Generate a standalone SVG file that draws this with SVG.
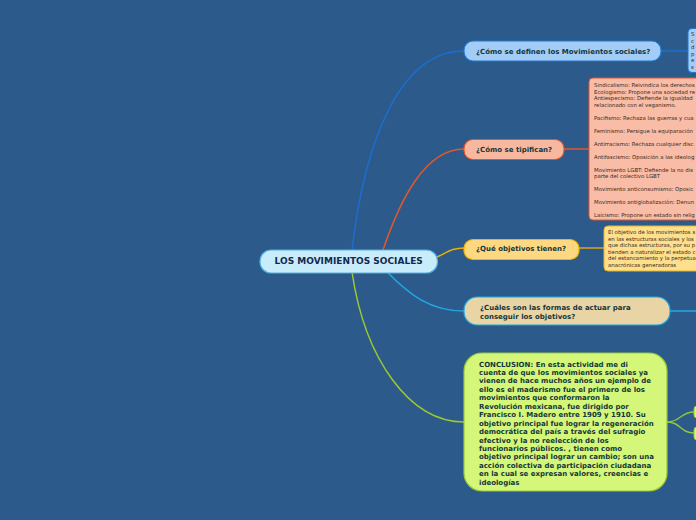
<svg xmlns="http://www.w3.org/2000/svg" width="696" height="520" viewBox="0 0 696 520">
<style>
.bg{fill:#2c5a8a}
.c{fill:none;stroke-width:1.5}
.t{font-family:"DejaVu Sans",Verdana,sans-serif;font-weight:bold;font-size:7px;fill:#15363a}
.s{font-family:"DejaVu Sans",Verdana,sans-serif;font-size:5.4px;fill:#3a2a20}
.main{font-family:"DejaVu Sans",Verdana,sans-serif;font-weight:bold;font-size:9px;fill:#13284f}
</style>
<rect class="bg" x="0" y="0" width="696" height="520"/>
<g id="connectors">
<path class="c" stroke="#1b6fd0" d="M352,250 C365,140 400,51 464,51"/>
<path class="c" stroke="#e0582c" d="M383,250 C400,200 425,149 464,149"/>
<path class="c" stroke="#efb000" d="M437,257 C448,252 452,248 464,248"/>
<path class="c" stroke="#22a8e0" d="M387,272 C410,295 430,311 464,311"/>
<path class="c" stroke="#9cc830" d="M352,272 C365,360 410,422 464,422"/>
<path class="c" stroke="#1b6fd0" d="M661,51 L688,51"/>
<path class="c" stroke="#e0582c" d="M564,149 L589,149"/>
<path class="c" stroke="#d9a520" d="M579,248 L604,248"/>
<path class="c" stroke="#22a8e0" d="M670,311 L696,311"/>
<path class="c" stroke="#8dc63f" d="M667,422 C681,422 680,412 694,412"/>
<path class="c" stroke="#8dc63f" d="M667,422 C681,422 680,433 694,433"/>
</g>
<g id="central">
<rect x="260" y="250" width="177.5" height="23" rx="11" fill="#c8ecfa" stroke="#56afe0" stroke-width="1.2"/>
<text class="main" x="348.7" y="264.3" text-anchor="middle">LOS MOVIMIENTOS SOCIALES</text>
</g>
<g id="n1">
<rect x="464" y="41" width="197" height="20" rx="9" fill="#a3cdf6" stroke="#1f78d1" stroke-width="1.2"/>
<text class="t" x="476" y="53.5">¿Cómo se definen los Movimientos sociales?</text>
</g>
<g id="n1d">
<rect x="688" y="28.5" width="20" height="44" rx="4" fill="#a3cdf6" stroke="#1f78d1" stroke-width="1"/>
<text class="s" x="691" y="36">S</text>
<text class="s" x="691" y="42.5">c</text>
<text class="s" x="691" y="49">d</text>
<text class="s" x="691" y="55.5">p</text>
<text class="s" x="691" y="62">e</text>
<text class="s" x="691" y="68.5">s</text>
</g>
<g id="n2">
<rect x="464" y="139.5" width="100" height="20" rx="9" fill="#f8b8a0" stroke="#e1562a" stroke-width="1.2"/>
<text class="t" x="476" y="152.3">¿Cómo se tipifican?</text>
</g>
<g id="n2d">
<rect x="589" y="78" width="120" height="142" rx="4" fill="#f9bca6" stroke="#e1562a" stroke-width="1"/>
<text class="s" x="594" y="87">Sindicalismo: Reivindica los derechos</text>
<text class="s" x="594" y="93.5">Ecologismo: Propone una sociedad re</text>
<text class="s" x="594" y="100">Antiespecismo: Defiende la igualdad</text>
<text class="s" x="594" y="106.5">relacionado con el veganismo.</text>
<text class="s" x="594" y="119.5">Pacifismo: Rechaza las guerras y cua</text>
<text class="s" x="594" y="132.5">Feminismo: Persigue la equiparación</text>
<text class="s" x="594" y="145.5">Antirracismo: Rechaza cualquier disc</text>
<text class="s" x="594" y="158.5">Antifascismo: Oposición a las ideolog</text>
<text class="s" x="594" y="171.5">Movimiento LGBT: Defiende la no dis</text>
<text class="s" x="594" y="178">parte del colectivo LGBT</text>
<text class="s" x="594" y="191">Movimiento anticonsumismo: Oposic</text>
<text class="s" x="594" y="204">Movimiento antiglobalización: Denun</text>
<text class="s" x="594" y="217">Laicismo: Propone un estado sin relig</text>
</g>
<g id="n3">
<rect x="464" y="239.5" width="115" height="20" rx="9" fill="#fdd880" stroke="#f2b600" stroke-width="1.2"/>
<text class="t" x="476" y="250.5">¿Qué objetivos tienen?</text>
</g>
<g id="n3d">
<rect x="604" y="226" width="100" height="45" rx="4" fill="#fddf8e" stroke="#e6b422" stroke-width="1"/>
<text class="s" x="608" y="234">El objetivo de los movimientos s</text>
<text class="s" x="608" y="240.6">en las estructuras sociales y los</text>
<text class="s" x="608" y="247.2">que dichas estructuras, por su p</text>
<text class="s" x="608" y="253.8">tienden a naturalizar el estado c</text>
<text class="s" x="608" y="260.4">del estancamiento y la perpetua</text>
<text class="s" x="608" y="267">anacrónicas generadoras</text>
</g>
<g id="n4">
<rect x="464" y="297" width="206" height="28" rx="13" fill="#e9d4a5" stroke="#1fa8e4" stroke-width="1.2"/>
<text class="t" x="480" y="310">¿Cuáles son las formas de actuar para</text>
<text class="t" x="480" y="318.7">conseguir los objetivos?</text>
</g>
<g id="n5">
<rect x="464" y="353" width="203" height="138" rx="18" fill="#d4f779" stroke="#99c93a" stroke-width="1.2"/>
<text class="t" x="479" y="366.5">CONCLUSION: En esta actividad me di</text>
<text class="t" x="479" y="374.95">cuenta de que los movimientos sociales ya</text>
<text class="t" x="479" y="383.4">vienen de hace muchos años un ejemplo de</text>
<text class="t" x="479" y="391.85">ello es el maderismo fue el primero de los</text>
<text class="t" x="479" y="400.3">movimientos que conformaron la</text>
<text class="t" x="479" y="408.75">Revolución mexicana, fue dirigido por</text>
<text class="t" x="479" y="417.2">Francisco I. Madero entre 1909 y 1910. Su</text>
<text class="t" x="479" y="425.65">objetivo principal fue lograr la regeneración</text>
<text class="t" x="479" y="434.1">democrática del país a través del sufragio</text>
<text class="t" x="479" y="442.55">efectivo y la no reelección de los</text>
<text class="t" x="479" y="451">funcionarios públicos. , tienen como</text>
<text class="t" x="479" y="459.45">objetivo principal lograr un cambio; son una</text>
<text class="t" x="479" y="467.9">acción colectiva de participación ciudadana</text>
<text class="t" x="479" y="476.35">en la cual se expresan valores, creencias e</text>
<text class="t" x="479" y="484.8">ideologías</text>
</g>
<g id="n5a">
<rect x="694" y="406" width="20" height="12" rx="3" fill="#d4f779" stroke="#99c93a" stroke-width="1"/>
</g>
<g id="n5b">
<rect x="694" y="427" width="20" height="13" rx="3" fill="#d4f779" stroke="#99c93a" stroke-width="1"/>
</g>
</svg>
